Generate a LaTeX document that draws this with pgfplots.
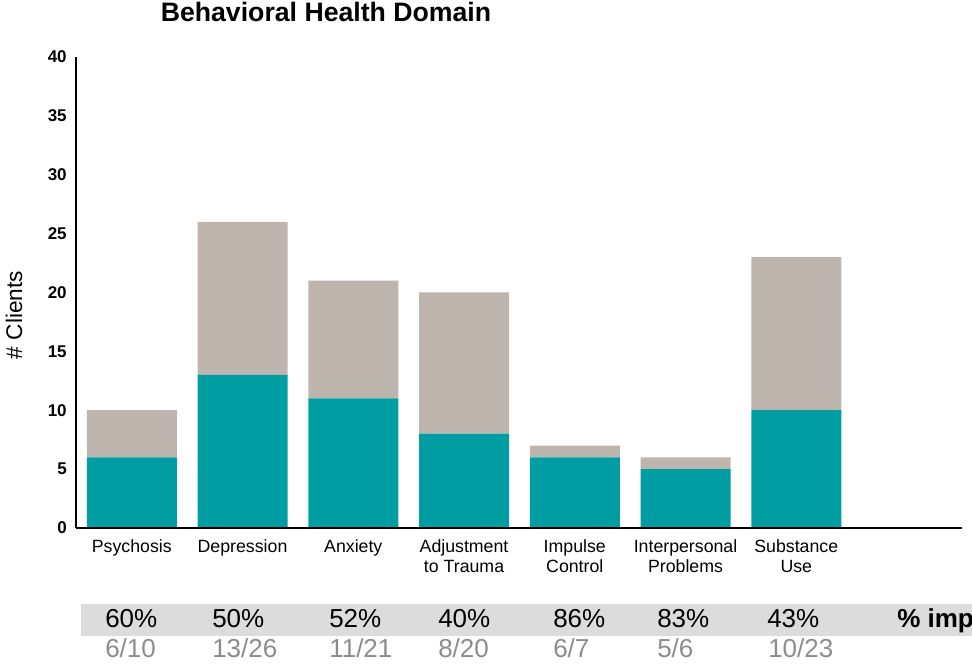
\documentclass[border=0pt]{standalone}
\usepackage{pgfplots}
\pgfplotsset{compat=1.18}
\usepackage{fontspec}
\setmainfont{Liberation Sans}
\definecolor{tealbar}{RGB}{0,158,163}
\definecolor{beigebar}{RGB}{190,181,175}
\definecolor{rowgray}{RGB}{220,220,220}
\definecolor{fracgray}{RGB}{140,140,140}
\begin{document}
\begin{tikzpicture}[x=0.75pt,y=0.75pt]
\useasboundingbox (0,0) rectangle (972,671);
\begin{axis}[at={(69,121.5)}, anchor=south west, scale only axis,
  width=664.5pt, height=353.25pt,
  xmin=-0.5, xmax=7.5, ymin=0, ymax=40,
  ybar stacked, bar width=67.5pt,
  axis lines=left,
  axis line style={-, line width=1.5pt, black},
  axis on top=true,
  xtick={0,...,6},
  xticklabels={Psychosis, Depression, Anxiety, {Adjustment\\to Trauma}, {Impulse\\Control}, {Interpersonal\\Problems}, {Substance\\Use}},
  xticklabel style={align=center, font=\fontsize{13.3}{15}\selectfont, yshift=-5pt},
  ytick={0,5,...,40},
  yticklabel style={font=\fontsize{12.75}{15}\selectfont\bfseries, xshift=-3.75pt},
  major tick length=0pt,
  /pgf/number format/assume math mode=true,
]
\addplot[fill=tealbar, draw=none] coordinates {(0,6) (1,13) (2,11) (3,8) (4,6) (5,5) (6,10)};
\addplot[fill=beigebar, draw=none] coordinates {(0,4) (1,13) (2,10) (3,12) (4,1) (5,1) (6,13)};
\end{axis}
\node[rotate=90, font=\fontsize{17}{20}\selectfont] at (14,356) {\# Clients};
\node[anchor=base, font=\fontsize{20}{22}\selectfont\bfseries] at (326,649) {Behavioral Health Domain};
\fill[rowgray] (81,67) rectangle (990,35);
\begin{scope}[every node/.style={anchor=base west, inner sep=0pt, font=\fontsize{19.5}{22}\selectfont}]
\node at (105,43) {60\%};
\node at (212,43) {50\%};
\node at (329,43) {52\%};
\node at (438,43) {40\%};
\node at (553,43) {86\%};
\node at (657,43) {83\%};
\node at (767,43) {43\%};
\node[font=\fontsize{19.5}{22}\selectfont\bfseries] at (897,43) {\% improved};
\node[text=fracgray] at (105,13) {6/10};
\node[text=fracgray] at (212,13) {13/26};
\node[text=fracgray] at (329,13) {11/21};
\node[text=fracgray] at (438,13) {8/20};
\node[text=fracgray] at (553,13) {6/7};
\node[text=fracgray] at (657,13) {5/6};
\node[text=fracgray] at (768,13) {10/23};
\end{scope}
\end{tikzpicture}
\end{document}
